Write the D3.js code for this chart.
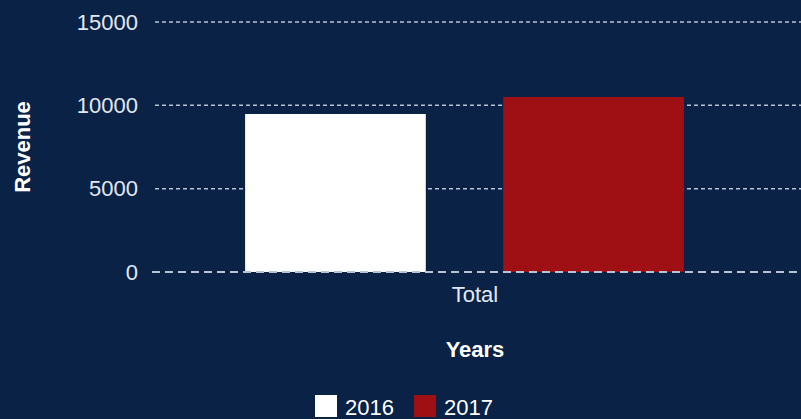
<!DOCTYPE html>
<html>
<head>
<meta charset="utf-8">
<script src="https://cdn.jsdelivr.net/npm/d3@7"></script>
<style>
  html, body { margin: 0; padding: 0; background: #0a2246; }
  svg { display: block; font-family: "Liberation Sans", Arial, sans-serif; }
</style>
</head>
<body>
<script>
// Chart data
const categories = ['Total'];
const years = ['2016', '2017'];
const revenue2016 = [9480];
const revenue2017 = [10500];
const yTicks = [0, 5000, 10000, 15000];
const colors = ['#ffffff', '#9e1014'];

const rows = categories.map((c, i) => ({ category: c, values: [revenue2016[i], revenue2017[i]] }));

// SVG setup
const svgWidth = 801;
const svgHeight = 419;
const margin = { top: 22, right: 6, bottom: 147, left: 155 };
const width = svgWidth - margin.left - margin.right;
const height = svgHeight - margin.top - margin.bottom;

const svg = d3.select('body')
  .append('svg')
  .attr('width', svgWidth)
  .attr('height', svgHeight);

svg.append('rect')
  .attr('width', svgWidth)
  .attr('height', svgHeight)
  .attr('fill', '#0a2246');

const g = svg.append('g')
  .attr('transform', `translate(${margin.left},${margin.top})`);

// Scales
const x0 = d3.scaleBand()
  .domain(categories)
  .range([0, width])
  .paddingInner(0)
  .paddingOuter(0.196);

const x1 = d3.scaleBand()
  .domain(years)
  .range([0, x0.bandwidth() - 21])
  .paddingInner(0.3);

const yScale = d3.scaleLinear()
  .domain([0, 15000])
  .range([height, 0]);

// Gridlines
g.append('g')
  .selectAll('line')
  .data(yTicks.filter(d => d > 0))
  .enter()
  .append('line')
  .attr('x1', 0)
  .attr('x2', svgWidth - margin.left)
  .attr('y1', d => yScale(d))
  .attr('y2', d => yScale(d))
  .attr('stroke', '#b7c3d6')
  .attr('stroke-width', 1.5)
  .attr('stroke-dasharray', '4,3');

// Y axis labels
const yAxis = d3.axisLeft(yScale).tickValues(yTicks).tickFormat(d3.format('d')).tickSize(0).tickPadding(17);
g.append('g')
  .call(yAxis)
  .call(s => s.select('.domain').remove())
  .selectAll('text')
  .attr('fill', '#e2e8f0')
  .style('font-size', '22px');

// Bars
const groups = g.selectAll('.group')
  .data(rows)
  .enter()
  .append('g')
  .attr('transform', d => `translate(${x0(d.category)},0)`);

groups.selectAll('rect')
  .data(d => d.values.map((v, i) => ({ year: years[i], value: v, color: colors[i] })))
  .enter()
  .append('rect')
  .attr('x', d => x1(d.year))
  .attr('y', d => yScale(d.value))
  .attr('width', x1.bandwidth())
  .attr('height', d => height - yScale(d.value))
  .attr('fill', d => d.color);

// Zero line
g.append('line')
  .attr('x1', -3)
  .attr('x2', svgWidth - margin.left)
  .attr('y1', yScale(0))
  .attr('y2', yScale(0))
  .attr('stroke', '#b7c3d6')
  .attr('stroke-width', 2)
  .attr('stroke-dasharray', '8,5');

// X axis labels
const xAxis = d3.axisBottom(x0).tickSize(0).tickPadding(14);
g.append('g')
  .attr('transform', `translate(0,${height})`)
  .call(xAxis)
  .call(s => s.select('.domain').remove())
  .selectAll('text')
  .attr('fill', '#e2e8f0')
  .style('font-size', '22px');

// Axis titles
g.append('text')
  .attr('x', width / 2)
  .attr('y', height + 85)
  .attr('text-anchor', 'middle')
  .attr('fill', '#ffffff')
  .style('font-size', '22px')
  .style('font-weight', 'bold')
  .text('Years');

svg.append('text')
  .attr('transform', `translate(30,${margin.top + height / 2}) rotate(-90)`)
  .attr('text-anchor', 'middle')
  .attr('fill', '#ffffff')
  .style('font-size', '22px')
  .style('font-weight', 'bold')
  .text('Revenue');

// Legend
const legend = svg.append('g')
  .attr('transform', 'translate(315,395)');

const item = legend.selectAll('g')
  .data(years)
  .enter()
  .append('g')
  .attr('transform', (d, i) => `translate(${i * 99},0)`);

item.append('rect')
  .attr('width', 22)
  .attr('height', 22)
  .attr('fill', (d, i) => colors[i]);

item.append('text')
  .attr('x', 30)
  .attr('y', 20)
  .attr('fill', '#ffffff')
  .style('font-size', '22px')
  .text(d => d);
</script>
</body>
</html>
